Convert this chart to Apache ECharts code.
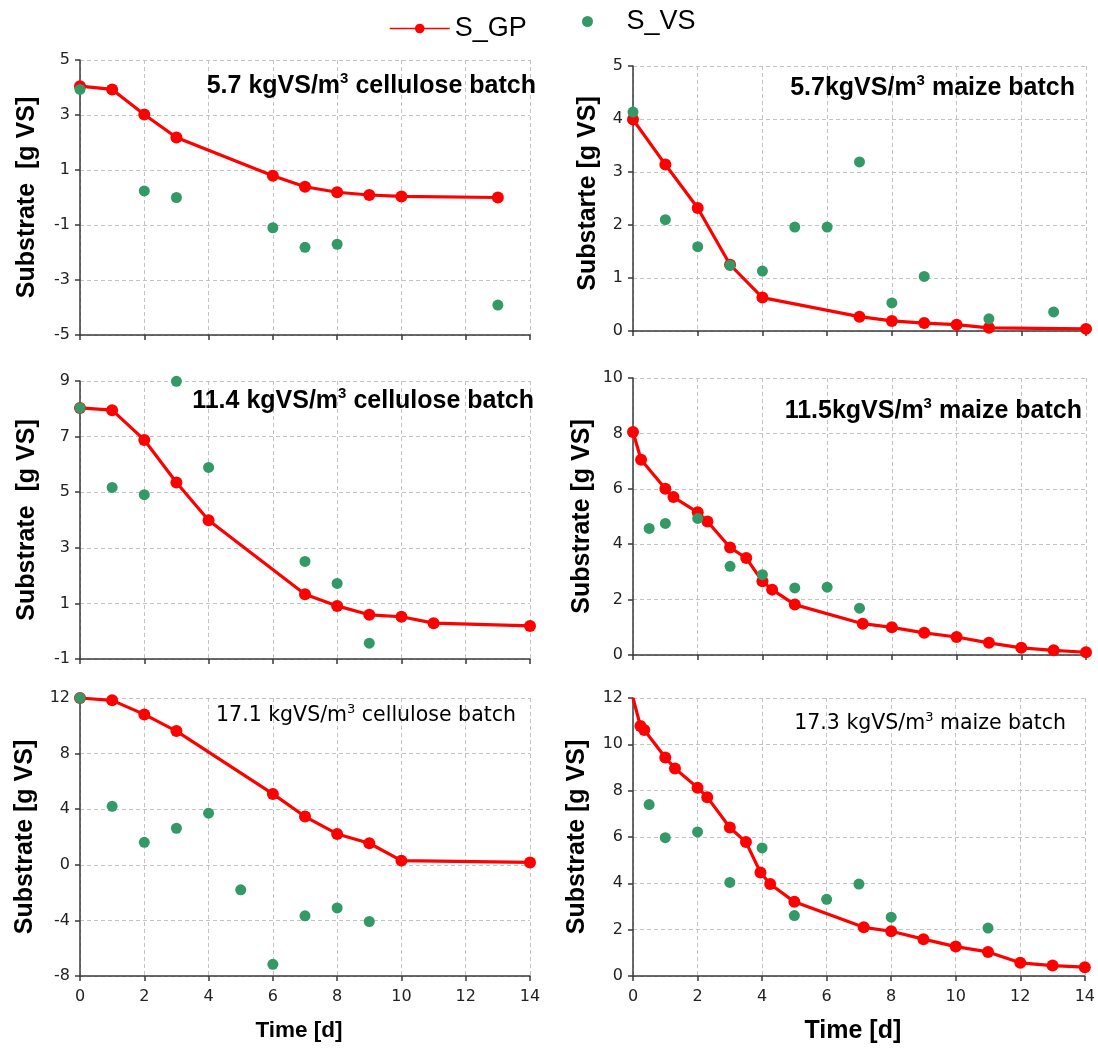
<!DOCTYPE html>
<html>
<head>
<meta charset="utf-8">
<script src="https://cdn.jsdelivr.net/npm/echarts@6/dist/echarts.min.js"></script>
<style>
  html, body { margin: 0; padding: 0; background: #ffffff; }
  #chart { width: 1098px; height: 1048px; }
</style>
</head>
<body>
<div id="chart"></div>
<script>
// Time axis, days
const timeMin = 0, timeMax = 14, timeStep = 2;

// 5.7 kgVS/m3 cellulose batch
const cel57GP = [[0,4.05],[1,3.93],[2,3.02],[3,2.18],[6,0.79],[7,0.39],[8,0.19],[9,0.09],[10,0.04],[13,0.0]];
const cel57VS = [[0,3.93],[2,0.24],[3,0.0],[6,-1.1],[7,-1.81],[8,-1.7],[13,-3.91]];

// 5.7 kgVS/m3 maize batch
const mai57GP = [[0,3.99],[1,3.14],[2,2.32],[3,1.25],[4,0.63],[7,0.27],[8,0.19],[9,0.15],[10,0.12],[11,0.06],[14,0.04]];
const mai57VS = [[0,4.13],[1,2.1],[2,1.59],[3,1.24],[4,1.13],[5,1.96],[6,1.96],[7,3.19],[8,0.53],[9,1.03],[11,0.23],[13,0.36]];

// 11.4 kgVS/m3 cellulose batch
const cel114GP = [[0,8.03],[1,7.95],[2,6.88],[3,5.35],[4,3.99],[7,1.33],[8,0.91],[9,0.59],[10,0.52],[11,0.29],[14,0.19]];
const cel114VS = [[0,8.03],[1,5.17],[2,4.91],[3,8.99],[4,5.89],[7,2.51],[8,1.72],[9,-0.43]];

// 11.5 kgVS/m3 maize batch
const mai115GP = [[0,8.05],[0.25,7.05],[1,6.0],[1.25,5.7],[2,5.15],[2.3,4.82],[3,3.88],[3.5,3.5],[4,2.66],[4.3,2.36],[5,1.82],[7.1,1.13],[8,1.0],[9,0.8],[10,0.65],[11,0.44],[12,0.26],[13,0.17],[14,0.1]];
const mai115VS = [[0.5,4.57],[1,4.75],[2,4.93],[3,3.2],[4,2.9],[5,2.42],[6,2.45],[7,1.69]];

// 17.1 kgVS/m3 cellulose batch
const cel171GP = [[0,12],[1,11.83],[2,10.82],[3,9.62],[6,5.1],[7,3.47],[8,2.22],[9,1.55],[10,0.3],[14,0.17]];
const cel171VS = [[0,12],[1,4.21],[2,1.62],[3,2.63],[4,3.71],[5,-1.8],[6,-7.16],[7,-3.67],[8,-3.1],[9,-4.08]];

// 17.3 kgVS/m3 maize batch (model curve starts at t=0 without a marker)
const mai173GP = [[0,12],[0.23,10.79],[0.35,10.62],[1,9.43],[1.3,8.96],[2,8.13],[2.3,7.72],[3,6.41],[3.5,5.78],[3.95,4.47],[4.25,3.97],[5,3.2],[7.15,2.1],[8,1.93],[9,1.59],[10,1.27],[11,1.04],[12,0.57],[13,0.45],[14,0.38]];
const mai173VS = [[0.5,7.4],[1,5.97],[2,6.22],[3,4.04],[4,5.53],[5,2.61],[6,3.31],[7,3.97],[8,2.54],[11,2.07]];

// y-axis ranges per panel: [min, max, interval]
const yRanges = [[-5,5,2],[0,5,1],[-1,9,2],[0,10,2],[-8,12,4],[0,12,2]];
const yNames = ['Substrate  [g VS]','Substarte [g VS]','Substrate  [g VS]','Substrate [g VS]','Substrate [g VS]','Substrate [g VS]'];
const panelTitles = [
  '5.7 kgVS/m{sup|3} cellulose batch',
  '5.7kgVS/m{sup|3} maize batch',
  '11.4 kgVS/m{sup|3} cellulose batch',
  '11.5kgVS/m{sup|3} maize batch',
  '17.1 kgVS/m{sup|3} cellulose batch',
  '17.3 kgVS/m{sup|3} maize batch'
];
const gpSets = [cel57GP, mai57GP, cel114GP, mai115GP, cel171GP, mai173GP];
const vsSets = [cel57VS, mai57VS, cel114VS, mai115VS, cel171VS, mai173VS];
const unmarkedFirst = [false,false,false,false,false,true];

// plot-area boxes: [left, top, width, height]
const boxes = [
  [80, 60, 450, 275],
  [633, 66, 453, 265],
  [80, 381, 450, 278],
  [633, 378, 453, 277],
  [80, 698, 450, 278],
  [633, 698, 453, 278]
];
// title placement: [right, top, bold]
const titleSpots = [
  [562, 71, true],
  [23, 73, true],
  [564, 386, true],
  [16, 396, true],
  [582, 703, false],
  [32, 711, false]
];
// y-axis name gap and a shift along the axis (px, upward)
const yNameGaps = [40, 32, 40, 38, 42, 43];
const yNameShift = [0, 5, 0, 0, 0, 0];
const xNameSizes = [22.5, 22.5, 22.5, 22.5, 22.5, 25];

const RED = '#ff0000';
const GREEN = '#339966';
const axisColor = '#3a3a3a';
const gridColor = '#c4c4c4';
const labelFont = 'DejaVu Sans';
const boldFont = 'Liberation Sans';

const grids = [], xAxes = [], yAxes = [], series = [], titles = [];

boxes.forEach((b, i) => {
  const bottomRow = i >= 4;
  grids.push({ left: b[0], top: b[1], width: b[2], height: b[3], containLabel: false });
  xAxes.push({
    type: 'value', gridIndex: i, min: timeMin, max: timeMax, interval: timeStep,
    name: bottomRow ? 'Time [d]' : '', nameLocation: 'middle', nameGap: 43,
    nameTextStyle: { fontFamily: boldFont, fontWeight: 'bold', fontSize: xNameSizes[i], color: '#000',
                     padding: [0, 12, 0, 0] },
    axisLine: { onZero: false, lineStyle: { color: axisColor, width: 1.5 } },
    axisTick: { show: true, length: 5, lineStyle: { color: axisColor, width: 1.5 } },
    axisLabel: { show: bottomRow, margin: 13, fontFamily: labelFont, fontSize: 16, color: '#222' },
    splitLine: { show: true, lineStyle: { color: gridColor, type: [4, 3], width: 1 } }
  });
  const r = yRanges[i];
  yAxes.push({
    type: 'value', gridIndex: i, min: r[0], max: r[1], interval: r[2],
    name: yNames[i], nameLocation: 'middle', nameGap: yNameGaps[i],
    nameTextStyle: { fontFamily: boldFont, fontWeight: 'bold', fontSize: 25, color: '#000',
                     padding: [0, 0, 0, yNameShift[i] * 2] },
    axisLine: { onZero: false, lineStyle: { color: axisColor, width: 1.5 } },
    axisTick: { show: true, length: 5, lineStyle: { color: axisColor, width: 1.5 } },
    axisLabel: { margin: 10, fontFamily: labelFont, fontSize: 16, color: '#222' },
    splitLine: { show: true, lineStyle: { color: gridColor, type: [4, 3], width: 1 } }
  });
  const ts = titleSpots[i];
  const bold = ts[2];
  titles.push({
    text: panelTitles[i], right: ts[0], top: ts[1], padding: 0,
    textStyle: {
      fontFamily: bold ? boldFont : labelFont, fontWeight: bold ? 'bold' : 'normal',
      fontSize: bold ? 25 : 20.5, color: '#000', lineHeight: bold ? 30 : 26,
      rich: { sup: { fontFamily: bold ? boldFont : labelFont, fontWeight: bold ? 'bold' : 'normal',
                     fontSize: bold ? 15 : 13, lineHeight: 12, verticalAlign: 'top', color: '#000' } }
    }
  });
  const gpData = gpSets[i].map((p, k) =>
    (k === 0 && unmarkedFirst[i]) ? { value: p, symbol: 'none' } : { value: p });
  series.push({
    name: 'S_GP', type: 'line', xAxisIndex: i, yAxisIndex: i, data: gpData,
    symbol: 'circle', symbolSize: 12, showSymbol: true,
    lineStyle: { color: RED, width: 3.2 }, itemStyle: { color: RED },
    z: 3, animation: false
  });
  series.push({
    name: 'S_VS', type: 'scatter', xAxisIndex: i, yAxisIndex: i, data: vsSets[i],
    symbol: 'circle', symbolSize: 11, itemStyle: { color: GREEN, opacity: 1 },
    z: 4, animation: false
  });
});

const chart = echarts.init(document.getElementById('chart'), null, { renderer: 'canvas' });
chart.setOption({
  backgroundColor: '#ffffff',
  animation: false,
  title: titles,
  legend: [
    {
      data: ['S_GP'], left: 389, top: 15, itemWidth: 60, itemHeight: 12, padding: 0,
      lineStyle: { width: 1.5 },
      textStyle: { fontFamily: boldFont, fontSize: 27, color: '#000' }
    },
    {
      data: ['S_VS'], left: 582, top: 8, itemWidth: 68, itemHeight: 11, padding: 0,
      textStyle: { fontFamily: boldFont, fontSize: 27, color: '#000' }
    }
  ],
  grid: grids,
  xAxis: xAxes,
  yAxis: yAxes,
  series: series
});
</script>
</body>
</html>
